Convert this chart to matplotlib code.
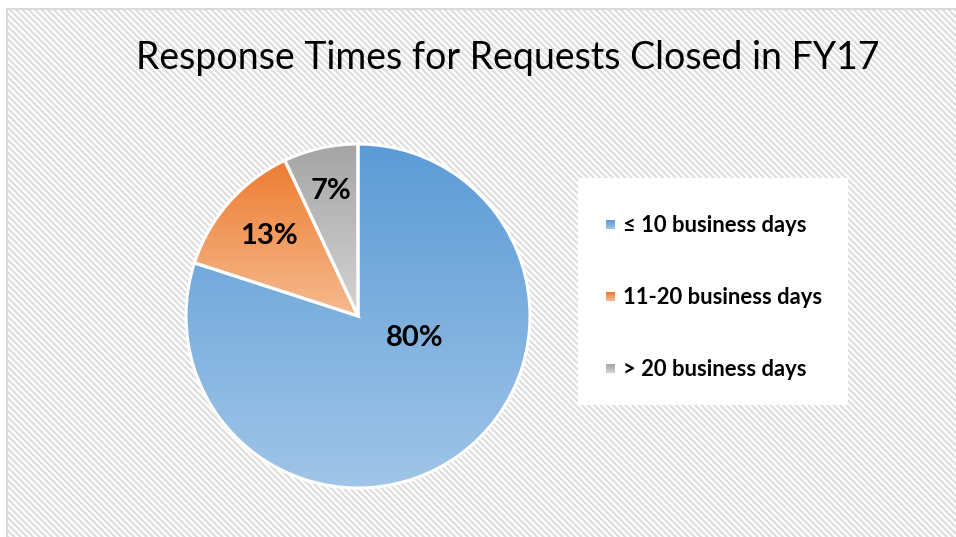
import numpy as np
import matplotlib
matplotlib.use("Agg")
import matplotlib.pyplot as plt
from matplotlib.patches import Rectangle
from matplotlib.collections import LineCollection
from matplotlib.colors import to_rgb

# ---- data ----
categories = ["\u2264 10 business days", "11-20 business days", "> 20 business days"]
values = [80, 13, 7]
labels = ["80%", "13%", "7%"]
title = "Response Times for Requests Closed in FY17"
top_colors = ["#5B9BD5", "#ED7D31", "#A5A5A5"]
bottom_colors = ["#A0C5E8", "#F6BA8F", "#D4D4D4"]

W, H = 956, 537
plt.rcParams["font.family"] = ["Lato", "DejaVu Sans"]

fig = plt.figure(figsize=(W / 100, H / 100), dpi=100)
fig.patch.set_facecolor("white")

# hatched background (diagonal stripes)
bw, bh = W - 8, H - 10
bgax = fig.add_axes([8 / W, 0, bw / W, bh / H])
bgax.set_xlim(0, bw)
bgax.set_ylim(0, bh)
bgax.axis("off")
period = 6.3
segs = [[(c - bh - 10, bh + 10), (c + 10, -10)] for c in np.arange(0, bw + bh + 20, period)]
bgax.add_collection(LineCollection(segs, colors="#dedede", linewidths=1.6))

fig.add_artist(plt.Line2D([7 / W, 7 / W], [0, (H - 9) / H], color="#d9d9d9", lw=1.5,
                          transform=fig.transFigure))
fig.add_artist(plt.Line2D([7 / W, 1], [(H - 9) / H, (H - 9) / H], color="#d9d9d9", lw=1.5,
                          transform=fig.transFigure))

ax = fig.add_axes([0, 0, 1, 1])
ax.patch.set_alpha(0)

cx, cy, R = 358, H - 316, 172
wedges, _ = ax.pie(values, center=(cx, cy), radius=R, startangle=90, counterclock=False,
                   wedgeprops=dict(facecolor="none", edgecolor="white", linewidth=2.2),
                   frame=True)
for w in wedges:
    w.set_zorder(3)


def grad_img(top, bottom, n=256):
    t = np.linspace(0, 1, n)[:, None]
    a = np.array(to_rgb(top))
    b = np.array(to_rgb(bottom))
    return (a * (1 - t) + b * t)[:, None, :]


for w, tc, bc in zip(wedges, top_colors, bottom_colors):
    ext = w.get_path().get_extents()
    im = ax.imshow(grad_img(tc, bc), extent=(ext.x0, ext.x1, ext.y0, ext.y1),
                   origin="upper", aspect="auto", zorder=2, interpolation="bilinear")
    im.set_clip_path(w)

# percentage labels
label_offsets = [(0.33, -0.13), (-0.52, 0.465), (-0.157, 0.727)]
for lab, (dx, dy) in zip(labels, label_offsets):
    ax.text(cx + dx * R, cy + dy * R, lab, ha="center", va="center",
            fontsize=21, fontweight="bold", color="black", zorder=5)

# legend box
ax.add_patch(Rectangle((578, H - 405), 270, 227, facecolor="white", edgecolor="none", zorder=1))
row_y = [225, 297, 369]
for cat, tc, bc, ry in zip(categories, top_colors, bottom_colors, row_y):
    y = H - ry
    ax.imshow(grad_img(tc, bc, 16), extent=(606, 615, y - 4.5, y + 4.5), origin="upper",
              aspect="auto", zorder=4)
    ax.text(623, y, cat, ha="left", va="center", fontsize=15.8, fontweight="bold",
            color="black", zorder=5)

ax.set_xlim(0, W)
ax.set_ylim(0, H)
ax.set_aspect("auto")
ax.axis("off")

fig.text(508 / W, 1 - 58 / H, title, ha="center", va="center", fontsize=27, color="black")

fig.savefig("out.png", dpi=100, facecolor="white")
